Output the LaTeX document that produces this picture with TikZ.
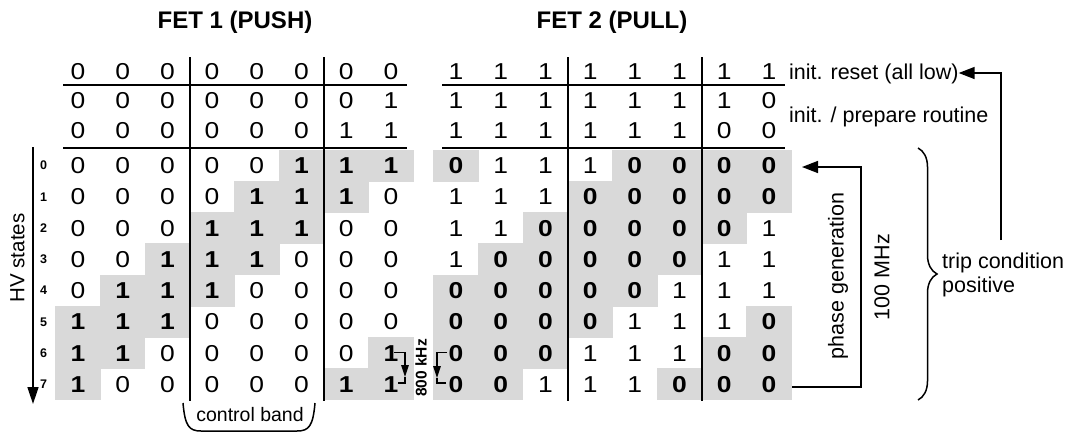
\documentclass[tikz,border=0pt]{standalone}
\usepackage{fontspec}
\setmainfont{Liberation Sans}
\usetikzlibrary{arrows.meta,decorations.pathreplacing}
\definecolor{cellgray}{RGB}{217,217,217}
\tikzset{
  digit/.style={inner sep=0pt, xscale=1.15, font=\fontsize{23}{26}\selectfont},
  bdigit/.style={inner sep=0pt, xscale=1.15, font=\fontsize{23}{26}\selectfont\bfseries},
  gridline/.style={line width=1.6pt},
  conn/.style={line width=1.5pt},
  bigtip/.style={-{Triangle[length=16pt,width=12pt]}},
  smalltip/.style={-{Triangle[length=12pt,width=7.5pt]}},
  lbl/.style={inner sep=0pt, font=\fontsize{21.5}{24}\selectfont},
  rowlbl/.style={inner sep=0pt, font=\fontsize{12.5}{14}\selectfont\bfseries},
  title/.style={inner sep=0pt, font=\fontsize{24}{27}\selectfont\bfseries}
}
% #1 name prefix, #2 x of first column, #3 y, #4 list (0,1 normal; 2,3 = grey bold 0,1)
\newcommand\fetrow[4]{%
  \foreach \v [count=\j] in {#4}{%
    \pgfmathsetmacro\cx{#2+44.7*(\j-1)}%
    \ifnum\v>1
      \fill[cellgray] (\cx-22.7,#3-15.95) rectangle (\cx+22.7,#3+15.95);
      \pgfmathtruncatemacro\dd{\v-2}%
      \node[bdigit] (#1-\j) at (\cx,#3) {\dd};
    \else
      \node[digit] (#1-\j) at (\cx,#3) {\v};
    \fi
  }}
\begin{document}
\begin{tikzpicture}[x=1pt,y=-1pt]
\useasboundingbox (0,0) rectangle (1070,434);
% titles
\node[title] (t1) at (235,22) {FET 1 (PUSH)};
\node[title] (t2) at (612,22) {FET 2 (PULL)};
% left grid init rows
\fetrow{LIa}{78}{72}{0,0,0,0,0,0,0,0}
\fetrow{LIb}{78}{101}{0,0,0,0,0,0,0,1}
\fetrow{LIc}{78}{131}{0,0,0,0,0,0,1,1}
% right grid init rows
\fetrow{RIa}{456}{72}{1,1,1,1,1,1,1,1}
\fetrow{RIb}{456}{101}{1,1,1,1,1,1,1,0}
\fetrow{RIc}{456}{131}{1,1,1,1,1,1,0,0}
% HV rows
\fetrow{L0}{78}{165.625}{0,0,0,0,0,3,3,3}
\fetrow{L1}{78}{196.875}{0,0,0,0,3,3,3,0}
\fetrow{L2}{78}{228.125}{0,0,0,3,3,3,0,0}
\fetrow{L3}{78}{259.375}{0,0,3,3,3,0,0,0}
\fetrow{L4}{78}{290.625}{0,3,3,3,0,0,0,0}
\fetrow{L5}{78}{321.875}{3,3,3,0,0,0,0,0}
\fetrow{L6}{78}{353.125}{3,3,0,0,0,0,0,3}
\fetrow{L7}{78}{384.375}{3,0,0,0,0,0,3,3}
\fetrow{R0}{456}{165.625}{2,1,1,1,2,2,2,2}
\fetrow{R1}{456}{196.875}{1,1,1,2,2,2,2,2}
\fetrow{R2}{456}{228.125}{1,1,2,2,2,2,2,1}
\fetrow{R3}{456}{259.375}{1,2,2,2,2,2,1,1}
\fetrow{R4}{456}{290.625}{2,2,2,2,2,1,1,1}
\fetrow{R5}{456}{321.875}{2,2,2,2,1,1,1,2}
\fetrow{R6}{456}{353.125}{2,2,2,1,1,1,2,2}
\fetrow{R7}{456}{384.375}{2,2,1,1,1,2,2,2}
% grid lines
\coordinate (la1) at (63,85);  \coordinate (lb1) at (407,85);
\coordinate (la2) at (63,148); \coordinate (lb2) at (407,148);
\coordinate (ra1) at (442,85);  \coordinate (rb1) at (785,85);
\coordinate (ra2) at (442,148); \coordinate (rb2) at (785,148);
\draw[gridline] (la1) -- (lb1) (la2) -- (lb2) (ra1) -- (rb1) (ra2) -- (rb2);
\coordinate (lv1t) at (189.8,57); \coordinate (lv1b) at (189.8,401);
\coordinate (lv2t) at (323.9,57); \coordinate (lv2b) at (323.9,401);
\coordinate (rv1t) at (567.8,57); \coordinate (rv1b) at (567.8,401);
\coordinate (rv2t) at (701.9,57); \coordinate (rv2b) at (701.9,401);
\draw[gridline] (lv1t) -- (lv1b) (lv2t) -- (lv2b) (rv1t) -- (rv1b) (rv2t) -- (rv2b);
% HV axis
\coordinate (hvtop) at (33,147); \coordinate (hvbot) at (33,404);
\draw[conn,-{Triangle[length=17pt,width=11pt]}] (hvtop) -- (hvbot);
\node[lbl,rotate=90,font=\fontsize{20.5}{22}\selectfont] (hv) at (17.5,258) {HV states};
\foreach \i in {0,...,7}{\node[rowlbl] (n\i) at (43.5,165.625+31.25*\i) {\i};}
% control band
\coordinate (cb1) at (183,403); \coordinate (cb2) at (315,403);
\draw[conn] (cb1) .. controls (185,426) and (189,431) .. (201,431) -- (297,431) .. controls (309,431) and (313,426) .. (cb2);
\node[lbl,font=\fontsize{19.5}{22}\selectfont] (cband) at (250,415) {control band};
% 800 kHz
\coordinate (k1) at (394,352.5); \coordinate (k2) at (405,377); \coordinate (k3) at (398,383);
\draw[conn,smalltip] (k1) -| (k2);
\draw[conn] (k3) -| (k2);
\coordinate (m1) at (447,352.5); \coordinate (m2) at (437,378); \coordinate (m3) at (446,383);
\draw[conn,smalltip] (m1) -| (m2);
\draw[conn] (m3) -| (m2);
\node[inner sep=0pt,rotate=90,font=\fontsize{15.5}{17}\selectfont\bfseries] (khz) at (421,368) {800 kHz};
% right side labels
\node[lbl,anchor=base west] (reset) at (789,79) {init. reset (all low)};
\node[lbl,anchor=base west] (prep) at (789,122) {init. / prepare routine};
\node[lbl,anchor=base west] (trip) at (942,268) {trip condition};
\node[lbl,anchor=base west] (pos) at (942,292) {positive};
% trip arrow
\coordinate (tripbot) at (1001,240); \coordinate (tripcorner) at (1001,73);
\draw[conn,bigtip] (tripbot) -- (tripcorner) -- (reset.east |- tripcorner);
% phase generation loop
\coordinate (p1) at (792,387); \coordinate (p2) at (861,387); \coordinate (p3) at (861,167); \coordinate (p4) at (802,167);
\draw[conn,bigtip] (p1) -- (p2) -- (p3) -- (p4);
\node[lbl,rotate=90] (phase) at (838,276) {phase generation};
\node[lbl,rotate=90] (mhz) at (882,277) {100 MHz};
% brace
\coordinate (br1) at (918,148); \coordinate (br2) at (918,400);
\draw[line width=1.5pt,decorate,decoration={brace,amplitude=19pt}] (br1) -- (br2);
\end{tikzpicture}
\end{document}
